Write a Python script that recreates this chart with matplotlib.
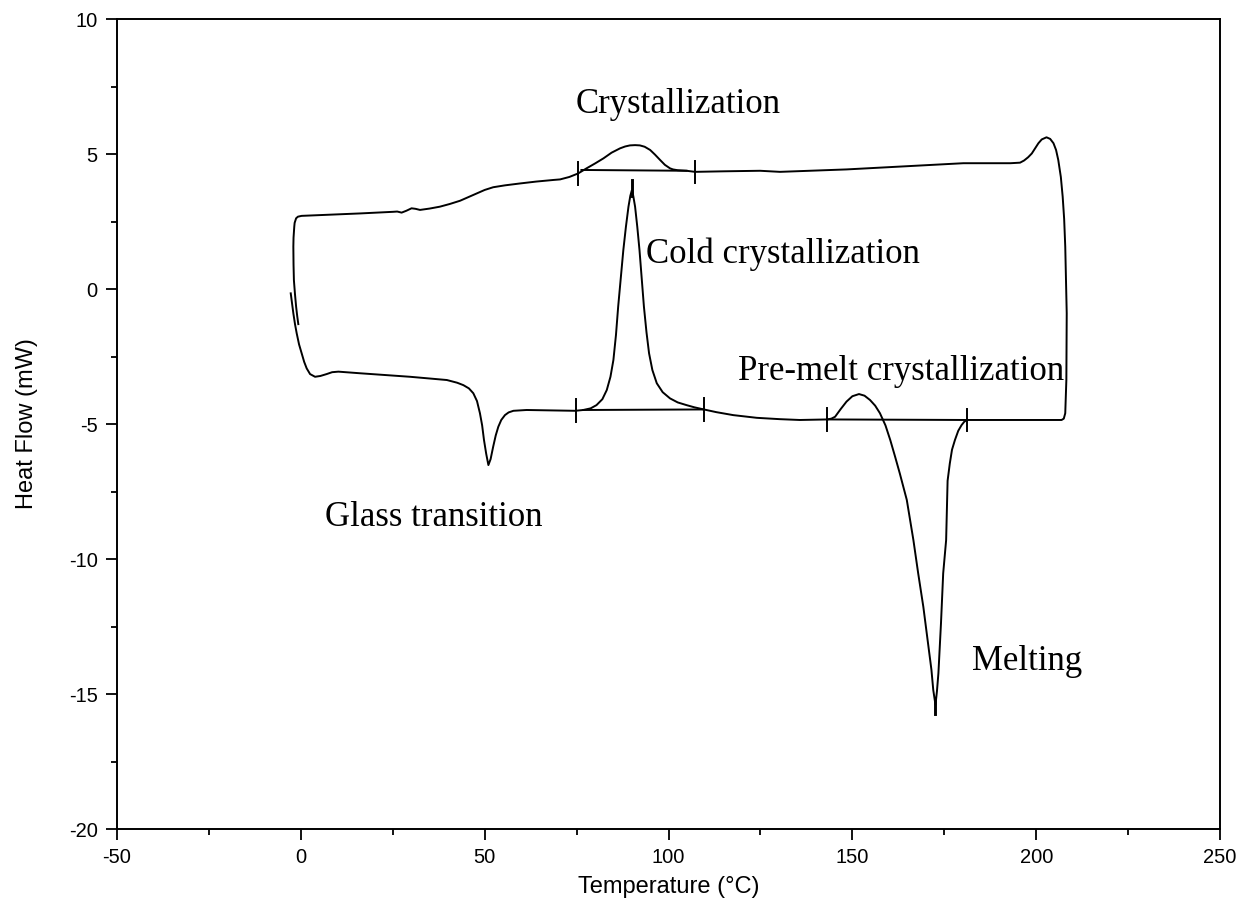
import numpy as np
import matplotlib.pyplot as plt
from matplotlib.ticker import MultipleLocator

plt.rcParams['axes.unicode_minus'] = False

# heating scan (bottom branch)
heat_T = [-2.76, -2.4, -2.05, -1.6, -1.14, -0.5, 0.22, 0.9, 1.58, 2.5, 3.85, 5.3, 7.0, 8.5,
          10.2, 13.0, 16.1, 29.7, 39.7, 42.5, 44.2, 45.7, 46.9, 47.9, 48.7, 49.3, 49.8,
          50.4, 51.0, 51.6, 52.3, 53.0, 53.7, 54.5, 55.5, 56.5, 57.8, 61.4, 74.6, 76.8,
          78.8, 80.4, 82.0, 83.2, 84.2, 85.0, 85.7, 86.3, 87.0, 87.7, 88.4, 89.1, 89.6,
          90.0, 90.4, 90.9, 91.5, 92.1, 92.7, 93.3, 94.0, 94.7, 95.6, 96.8, 98.4, 100.4,
          102.5, 104.9, 107.0, 109.6, 113.0, 117.6, 124.0, 130.3, 135.7, 143.2, 144.3,
          145.3, 146.8, 148.4, 150.0, 151.8, 153.3, 154.8, 156.2, 157.5, 159.0, 160.3,
          161.6, 162.9, 164.8, 166.6, 167.9, 169.3, 170.7, 171.5, 172.0, 172.6, 173.0,
          173.4, 174.1, 174.7, 175.1, 175.5, 175.9, 176.5, 177.1, 177.9, 178.8, 179.7,
          180.4, 181.1, 193.8, 206.9, 207.5]
heat_H = [-0.16, -0.55, -0.90, -1.30, -1.64, -2.05, -2.38, -2.70, -2.94, -3.15, -3.25, -3.22,
          -3.15, -3.08, -3.06, -3.09, -3.12, -3.25, -3.37, -3.47, -3.56, -3.68, -3.86, -4.15,
          -4.60, -5.05, -5.59, -6.10, -6.52, -6.30, -5.84, -5.42, -5.10, -4.85, -4.67, -4.57,
          -4.51, -4.48, -4.51, -4.48, -4.42, -4.30, -4.08, -3.74, -3.25, -2.63, -1.70, -0.65,
          0.40, 1.44, 2.30, 3.05, 3.45, 3.65, 3.45, 3.05, 2.30, 1.44, 0.40, -0.65, -1.60,
          -2.38, -3.00, -3.49, -3.82, -4.05, -4.20, -4.30, -4.38, -4.46, -4.56, -4.67, -4.77,
          -4.82, -4.85, -4.83, -4.80, -4.73, -4.45, -4.17, -3.97, -3.89, -3.95, -4.11, -4.32,
          -4.60, -5.05, -5.59, -6.20, -6.83, -7.81, -9.30, -10.53, -11.77, -13.25, -14.10,
          -14.85, -15.40, -14.90, -14.23, -12.38, -10.53, -9.90, -9.30, -7.10, -6.46, -5.95,
          -5.59, -5.25, -5.04, -4.92, -4.85, -4.85, -4.85, -4.80]

# cooling scan (top branch), from the hot end back to 0 °C
cool_T = [207.9, 208.2, 208.3, 208.1, 207.9, 207.6, 207.2, 206.7, 206.0, 205.4, 204.7,
          203.8, 202.8, 201.5, 200.6, 199.7, 198.8, 197.8, 196.7, 195.6, 193.0, 180.2,
          166.6, 148.4, 130.3, 124.9, 115.0, 107.2, 104.9, 102.5, 101.2, 100.4, 99.0,
          97.7, 96.3, 95.0, 93.5, 92.2, 90.9, 89.5, 88.2, 86.8, 84.5, 82.3, 80.0, 77.7,
          75.4, 73.0, 70.5, 68.7, 64.0, 59.6, 55.5, 52.3, 50.0, 47.8, 45.5, 43.3, 40.5,
          37.8, 35.0, 32.4, 31.2, 30.1, 28.7, 27.4, 26.2, 25.1, 16.1, 7.0, 0.2, -0.8,
          -1.3, -1.7, -1.8, -2.0, -2.05, -2.0, -1.9, -1.6, -1.3, -1.0, -0.7]
cool_H = [-4.60, -3.37, -0.90, 0.40, 1.57, 2.60, 3.42, 4.15, 4.78, 5.15, 5.40,
          5.56, 5.62, 5.54, 5.40, 5.21, 5.02, 4.88, 4.76, 4.68, 4.66, 4.66,
          4.56, 4.43, 4.34, 4.38, 4.36, 4.34, 4.38, 4.40, 4.43, 4.47, 4.60,
          4.78, 4.98, 5.15, 5.27, 5.32, 5.33, 5.32, 5.28, 5.21, 5.05, 4.84, 4.65, 4.47,
          4.28, 4.15, 4.06, 4.04, 3.98, 3.91, 3.84, 3.77, 3.67, 3.54, 3.40, 3.27, 3.15,
          3.05, 2.98, 2.93, 2.97, 2.99, 2.90, 2.83, 2.87, 2.86, 2.80, 2.75, 2.71, 2.68,
          2.62, 2.45, 2.31, 1.90, 1.57, 0.90, 0.33, -0.20, -0.65, -1.00, -1.30]

# integration baselines: (T start, T end, H start, H end)
base_T1 = [76.3, 76.8, 143.2]
base_T2 = [104.9, 109.6, 181.1]
base_H1 = [4.41, -4.48, -4.83]
base_H2 = [4.38, -4.46, -4.85]
# limit markers on the baselines
mark_T = [75.4, 107.2, 74.8, 109.6, 143.2, 181.1]
mark_H = [4.28, 4.34, -4.51, -4.46, -4.83, -4.85]
# peak markers
peak_T = [90.0, 172.6]
peak_H = [3.75, -15.45]

labels = ['Crystallization', 'Cold crystallization', 'Pre-melt crystallization',
          'Glass transition', 'Melting']
label_T = [74.6, 93.9, 118.9, 6.6, 182.5]
label_H = [6.52, 0.96, -3.37, -8.78, -14.11]

fig = plt.figure(figsize=(12.4, 9.02), dpi=100)
ax = fig.add_axes([0.0944, 0.0809, 0.8895, 0.898])

lw = 1.4
ax.plot(heat_T + cool_T, heat_H + cool_H, color='black', lw=lw)
for t1, t2, h1, h2 in zip(base_T1, base_T2, base_H1, base_H2):
    ax.plot([t1, t2], [h1, h2], color='black', lw=lw)
for t, h in zip(mark_T, mark_H):
    ax.plot([t, t], [h - 0.42, h + 0.42], color='black', lw=lw)
for t, h in zip(peak_T, peak_H):
    ax.plot([t, t], [h - 0.3, h + 0.3], color='black', lw=lw * 1.5)

for txt, t, h in zip(labels, label_T, label_H):
    ax.text(t, h, txt, family='Liberation Serif', fontsize=25,
            ha='left', va='baseline')

ax.set_xlim(-50, 250)
ax.set_ylim(-20, 10)
ax.xaxis.set_major_locator(MultipleLocator(50))
ax.xaxis.set_minor_locator(MultipleLocator(25))
ax.yaxis.set_major_locator(MultipleLocator(5))
ax.yaxis.set_minor_locator(MultipleLocator(2.5))
ax.tick_params(which='both', direction='out', width=1.3, labelsize=14.5,
               top=False, right=False)
ax.tick_params(which='major', length=8, pad=6)
ax.tick_params(which='minor', length=4)
for lab in ax.get_xticklabels() + ax.get_yticklabels():
    lab.set_family('Liberation Sans')
for sp in ax.spines.values():
    sp.set_linewidth(1.4)

ax.set_xlabel('Temperature (°C)', family='Liberation Sans', fontsize=17, labelpad=6)
ax.set_ylabel('Heat Flow (mW)', family='Liberation Sans', fontsize=17, labelpad=22)

fig.savefig('out.png', dpi=100)
